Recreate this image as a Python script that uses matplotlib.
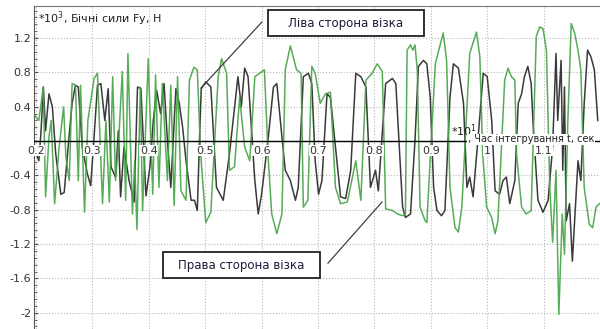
import matplotlib.pyplot as plt
from matplotlib.patches import Rectangle
from matplotlib.ticker import MultipleLocator

plt.rcParams['font.family'] = ['DejaVu Sans']

# час інтегрування (*10 с) та бічні сили (*10^3 Н)
left_t = [0.198, 0.205, 0.209, 0.213, 0.217, 0.223, 0.229, 0.235, 0.244, 0.250, 0.257, 0.264, 0.270, 0.275,
          0.282, 0.291, 0.297, 0.303, 0.309, 0.315, 0.322, 0.328, 0.333, 0.341, 0.346, 0.350, 0.356,
          0.365, 0.374, 0.380, 0.386, 0.395, 0.402, 0.408, 0.414, 0.421, 0.427, 0.433, 0.439, 0.448,
          0.454, 0.460, 0.466, 0.475, 0.481, 0.486, 0.491, 0.493, 0.501, 0.510,
          0.520, 0.532, 0.543, 0.558, 0.564, 0.570, 0.576, 0.588, 0.594, 0.600, 0.612, 0.621, 0.627,
          0.636, 0.642, 0.651, 0.660, 0.665, 0.674, 0.683, 0.689, 0.695, 0.701, 0.707, 0.716, 0.722,
          0.731, 0.740, 0.749, 0.758, 0.767, 0.776, 0.785, 0.793, 0.802, 0.807, 0.820, 0.832, 0.838,
          0.850, 0.855, 0.864, 0.872, 0.878, 0.887, 0.893, 0.899, 0.905, 0.911, 0.919, 0.925, 0.934,
          0.940, 0.949, 0.952, 0.958, 0.964, 0.969, 0.975, 0.984, 0.993, 1.000, 1.008, 1.014, 1.022,
          1.028, 1.034, 1.040, 1.049, 1.055, 1.061, 1.066, 1.072, 1.078, 1.081, 1.090, 1.099, 1.108,
          1.116, 1.122, 1.125, 1.131, 1.134, 1.137, 1.140, 1.146, 1.151, 1.155, 1.161, 1.166, 1.172,
          1.178, 1.184, 1.190, 1.196]
left_f = [-0.10, -0.23, 0.12, 0.63, 0.12, 0.55, 0.40, -0.15, -0.62, -0.60, -0.07, 0.44, 0.65, 0.63,
          -0.07, -0.38, -0.52, 0.05, 0.65, 0.67, 0.24, 0.61, -0.30, -0.42, 0.12, -0.65, -0.07,
          -0.46, -0.71, 0.63, 0.61, -0.64, -0.30, 0.24, 0.59, 0.32, 0.67, 0.01, -0.54, 0.61,
          0.44, 0.16, -0.23, -0.69, -0.69, -0.81, 0.24, 0.61, 0.69, 0.63,
          -0.54, -0.69, -0.15, 0.75, 0.40, 0.85, 0.75, -0.46, -0.85, -0.62, 0.05, 0.63, 0.67,
          0.05, -0.34, -0.46, -0.69, -0.54, 0.75, 0.79, 0.67, -0.23, -0.62, -0.46, 0.55, 0.51,
          -0.07, -0.65, -0.67, -0.34, 0.79, 0.75, 0.63, -0.54, -0.34, -0.58, 0.67, 0.73, 0.67,
          -0.77, -0.89, -0.85, 0.01, 0.87, 0.94, 0.90, 0.51, -0.54, -0.81, -0.87, -0.81, 0.51,
          0.90, 0.85, 0.71, 0.44, -0.54, -0.42, -0.65, 0.05, 0.79, 0.75, 0.24, -0.58, -0.62,
          -0.46, -0.42, -0.73, -0.46, 0.44, 0.55, 0.75, 0.87, 0.67, 0.24, -0.69, -0.83, -0.69,
          -0.07, 1.02, 0.24, 0.94, -0.34, 0.63, -0.93, -0.73, -1.40, -0.93, -0.23, -0.46, 0.44,
          1.06, 0.98, 0.83, 0.24]

right_t = [0.198, 0.205, 0.213, 0.217, 0.223, 0.227, 0.233, 0.241, 0.249, 0.253, 0.259, 0.264, 0.270,
           0.275, 0.279, 0.286, 0.292, 0.303, 0.309, 0.318, 0.324, 0.330, 0.336, 0.341, 0.347, 0.353,
           0.359, 0.363, 0.371, 0.375, 0.379, 0.385, 0.389, 0.399, 0.407, 0.412, 0.418, 0.424, 0.433,
           0.439, 0.445, 0.451, 0.457, 0.466, 0.472, 0.480, 0.486, 0.492, 0.501, 0.510,
           0.523, 0.529, 0.538, 0.543, 0.552, 0.561, 0.570, 0.579, 0.588, 0.605, 0.612, 0.618, 0.627,
           0.636, 0.642, 0.651, 0.662, 0.670, 0.674, 0.682, 0.689, 0.695, 0.704, 0.713, 0.722, 0.731,
           0.740, 0.752, 0.767, 0.776, 0.785, 0.796, 0.805, 0.814, 0.820, 0.832, 0.841, 0.850,
           0.855, 0.858, 0.864, 0.868, 0.872, 0.876, 0.881, 0.890, 0.893, 0.908, 0.922, 0.928, 0.934,
           0.943, 0.949, 0.955, 0.969, 0.981, 0.987, 0.992, 0.999, 1.008, 1.014, 1.019, 1.031, 1.037,
           1.043, 1.049, 1.052, 1.061, 1.069, 1.078, 1.087, 1.093, 1.099, 1.105, 1.111, 1.116, 1.122,
           1.127, 1.133, 1.137, 1.143, 1.149, 1.155, 1.161, 1.166, 1.172, 1.181, 1.187, 1.193, 1.199]
right_f = [0.30, 0.24, 0.63, -0.65, 0.05, 0.24, -0.73, -0.07, 0.40, -0.19, -0.46, 0.67, 0.65,
           -0.46, 0.65, -0.83, 0.24, 0.73, 0.79, -0.73, 0.24, -0.71, 0.75, -0.46, 0.05, 0.81,
           -0.69, 1.02, -0.85, -0.23, -1.03, 0.63, -0.81, 0.96, -0.62, 0.77, -0.54, 0.67, -0.46,
           0.65, -0.75, 0.75, -0.58, -0.69, 0.71, 0.86, 0.83, -0.15, -0.95, -0.83,
           0.75, 0.96, 0.79, -0.34, -0.30, 0.51, -0.07, -0.23, 0.75, 0.83, -0.23, -0.85, -1.08,
           -0.85, 0.83, 1.11, 0.83, 0.79, -0.77, -0.69, 0.87, 0.79, 0.44, 0.55, 0.57, -0.54,
           -0.73, -0.71, -0.23, -0.69, 0.71, 0.79, 0.90, 0.81, -0.79, -0.81, -0.85, -0.87,
           -0.85, 1.06, 1.12, 1.06, 1.12, 0.83, -0.77, -0.93, -0.95, 0.90, 1.26, 0.94, -0.54,
           -1.01, -1.06, -0.77, 1.02, 1.27, 0.98, -0.15, -0.77, -0.89, -1.08, -0.93, 0.71, 0.85,
           0.75, 0.71, -0.15, -0.77, -0.85, -0.81, 1.22, 1.33, 1.31, 1.06, -0.54, -1.18, -0.34,
           -2.02, -0.85, -1.32, 0.24, 1.37, 1.26, 1.06, 0.83, -0.54, -0.97, -1.01, -0.77, -0.73]

x_ticks = [0.2, 0.3, 0.4, 0.5, 0.6, 0.7, 0.8, 0.9, 1.0, 1.1, 1.2]
x_labels = ['0.2', '0.3', '0.4', '0.5', '0.6', '0.7', '0.8', '0.9', '1', '1.1', '']
y_ticks = [-2, -1.6, -1.2, -0.8, -0.4, 0, 0.4, 0.8, 1.2]
y_labels = ['-2', '-1.6', '-1.2', '-0.8', '-0.4', '', '0.4', '0.8', '1.2']

fig = plt.figure(figsize=(6, 3.29), dpi=100)
ax = fig.add_axes([0.0567, 0.0, 0.9433, 0.9818])
ax.set_xlim(0.1965, 1.2)
ax.set_ylim(-2.19, 1.574)

ax.plot(left_t, left_f, color='#3a3a3a', lw=1.1, zorder=2)
ax.plot(right_t, right_f, color='#45a345', lw=1.1, alpha=0.9, zorder=3)
ax.axhline(0, color='black', lw=1, zorder=4)

ax.set_xticks(x_ticks)
ax.set_yticks(y_ticks, y_labels)
ax.yaxis.set_minor_locator(MultipleLocator(0.08))
ax.tick_params(axis='x', length=0, labelbottom=False)
ax.tick_params(axis='y', which='major', direction='in', length=3, labelsize=8,
               labelcolor='#333333', color='#555555', pad=2)
ax.tick_params(axis='y', which='minor', direction='in', length=2, color='#555555')
ax.grid(color='#b8b8b8', ls=':', lw=0.8)

for s in ['right', 'bottom']:
    ax.spines[s].set_visible(False)
ax.spines['left'].set_color('#555555')
ax.spines['top'].set_color('#777777')

# підписи осі часу прямо під нульовою лінією
for x, lbl in zip(x_ticks, x_labels):
    if lbl:
        ax.annotate(lbl, (x, 0), xytext=(0, -3.5), textcoords='offset points',
                    ha='center', va='top', fontsize=8, color='#333333', zorder=6,
                    annotation_clip=False,
                    bbox=dict(facecolor='white', edgecolor='none', pad=0.3))

ax.text(0.007, 0.96, '*10$^3$, Бічні сили Fy, Н', transform=ax.transAxes,
        fontsize=8, color='#222222', va='center', ha='left', zorder=5)
ax.text(0.7375, 0.615, '*10$^1$', transform=ax.transAxes,
        fontsize=8, color='#222222', va='center', ha='left', zorder=5)
ax.text(0.767, 0.587, ', Час інтегрування t, сек', transform=ax.transAxes,
        fontsize=7.0, color='#222222', va='center', ha='left', zorder=5,
        bbox=dict(facecolor='white', edgecolor='none', pad=0.6))

# виноски
ax.add_patch(Rectangle((0.6113, 1.224), 0.2766, 0.303, facecolor='white',
                       edgecolor='#222222', lw=1.3, zorder=6))
ax.text(0.7496, 1.3755, 'Ліва сторона візка', fontsize=8.5, color='#1c1c3a',
        ha='center', va='center', zorder=7)
ax.plot([0.4926, 0.6007], [0.618, 1.388], color='#404040', lw=0.9, zorder=6)

ax.add_patch(Rectangle((0.4252, -1.598), 0.2783, 0.304, facecolor='white',
                       edgecolor='#222222', lw=1.3, zorder=6))
ax.text(0.5643, -1.446, 'Права сторона візка', fontsize=8.5, color='#1c1c3a',
        ha='center', va='center', zorder=7)
ax.plot([0.7177, 0.8135], [-1.423, -0.711], color='#404040', lw=0.9, zorder=6)

fig.savefig('out.png', dpi=100)
